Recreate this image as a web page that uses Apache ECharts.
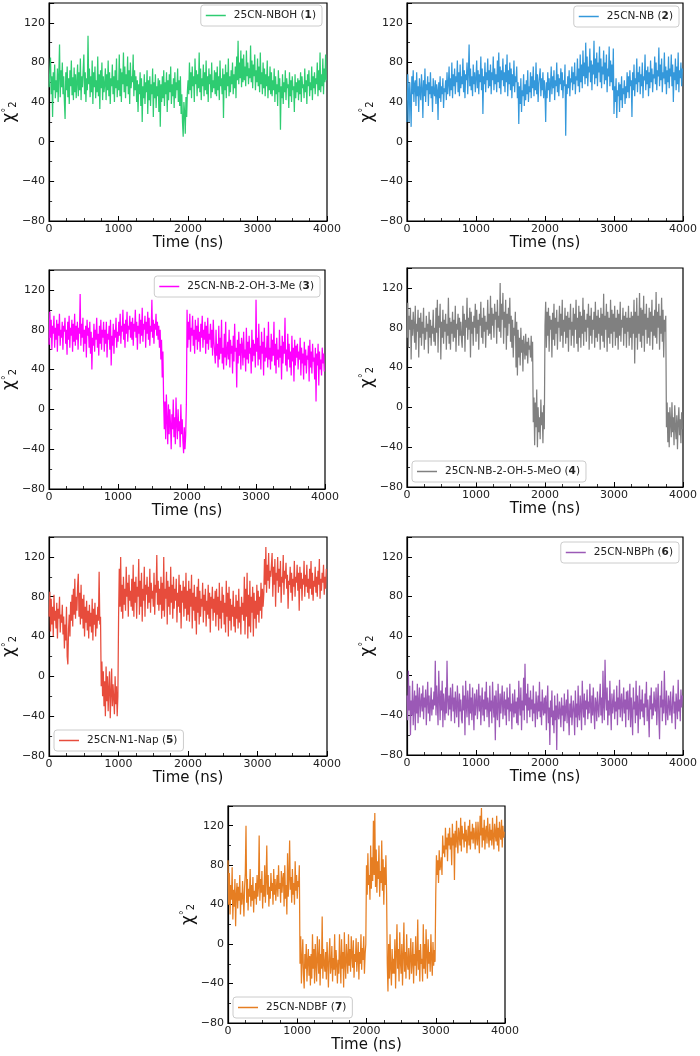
<!DOCTYPE html>
<html>
<head>
<meta charset="utf-8">
<script src="https://cdn.jsdelivr.net/npm/echarts@6/dist/echarts.min.js"></script>
<style>
html, body { margin: 0; padding: 0; background: #fff; }
#main { width: 700px; height: 1056px; }
</style>
</head>
<body>
<div id="main"></div>
<script>
// sampling interval of the trajectories (ns)
var STEP = 10;
var xTicks = [0, 1000, 2000, 3000, 4000];
var yTicks = [-80, -40, 0, 40, 80, 120];
var yMax = 140;

var names = ['25CN-NBOH', '25CN-NB', '25CN-NB-2-OH-3-Me', '25CN-NB-2-OH-5-MeO', '25CN-N1-Nap', '25CN-NBPh', '25CN-NDBF'];
var numbers = ['1', '2', '3', '4', '5', '6', '7'];
var colors = ['#2ecc71', '#3498db', '#ff00ff', '#808080', '#e74c3c', '#9b59b6', '#e67e22'];

var nboh = [
  55,72,85,48,66,25,70,52,78,44,62,50,74,40,68,98,45,72,55,80,48,66,40,23,70,52,76,45,64,38,72,56,82,47,65,42,75,50,68,44,
  60,78,46,70,52,84,42,66,55,72,88,48,70,40,64,52,107,58,74,45,66,50,82,38,70,55,76,44,62,50,86,46,68,33,72,54,80,42,66,50,
  58,74,42,68,52,82,46,70,38,64,56,78,48,66,40,72,54,84,45,62,52,88,46,74,40,70,58,90,50,76,44,68,56,86,48,72,38,80,54,66,
  60,88,46,72,52,66,40,62,30,58,48,70,36,64,20,56,44,68,38,60,50,72,28,62,42,66,36,58,48,74,25,60,44,68,34,56,46,64,30,62,
  15,58,40,66,44,72,36,60,48,70,30,62,42,68,50,76,38,58,46,64,34,70,44,60,52,74,40,62,36,66,28,48,20,5,40,30,8,45,25,50,
  62,48,80,52,70,44,76,56,66,40,84,58,72,46,68,54,90,50,74,42,64,56,78,46,70,52,82,48,66,40,74,58,68,44,80,50,62,54,72,48,
  70,46,76,52,66,42,82,56,64,48,74,24,68,52,78,44,70,56,84,46,66,50,72,58,80,48,68,54,76,44,86,62,102,58,80,64,92,55,84,60,
  88,62,76,56,92,66,80,58,74,64,97,60,82,54,78,66,88,52,72,60,84,56,76,50,90,58,70,48,80,54,74,46,68,56,82,44,66,52,76,48,
  70,46,62,52,74,40,66,48,58,36,72,50,64,12,56,44,68,38,60,50,72,42,64,54,58,34,70,46,62,40,66,52,56,30,68,44,60,50,64,42,
  62,48,70,40,66,54,58,44,74,50,62,38,68,56,72,46,60,52,76,42,66,54,70,48,64,58,80,46,72,52,90,50,68,56,84,48,74,60,88,62
];
var nb = [
  20,68,52,20,60,44,15,66,48,72,40,58,62,36,70,46,56,30,64,50,42,68,54,24,62,46,74,40,58,52,66,36,60,48,70,44,56,30,64,50,
  46,62,38,58,52,22,60,44,66,40,56,48,64,34,54,50,62,42,70,48,58,76,46,64,52,80,44,68,56,74,48,66,60,82,50,70,46,78,54,66,
  58,84,50,72,44,68,62,80,48,70,98,56,74,52,66,46,78,58,70,50,64,82,54,72,48,68,60,86,52,74,28,66,58,80,50,70,62,84,54,72,
  56,78,48,70,62,86,52,74,58,68,50,82,60,90,54,76,48,72,62,84,56,70,50,78,60,88,46,72,58,80,52,74,44,68,56,82,50,66,60,76,
  44,60,18,56,38,64,30,52,46,68,36,58,42,62,48,72,40,56,50,70,44,66,54,76,46,62,52,80,48,68,40,58,56,74,46,64,52,70,44,62,
  50,20,60,44,70,52,64,40,58,76,48,66,54,72,42,62,56,80,50,68,46,64,58,74,52,70,44,62,56,78,6,58,48,66,54,72,46,64,60,76,
  52,70,58,80,48,66,62,84,56,74,50,88,60,78,54,92,66,80,58,100,64,86,56,76,70,94,60,82,52,78,68,102,58,84,64,90,56,80,70,96,
  60,84,54,76,68,92,58,80,62,88,50,74,66,96,56,82,60,78,52,94,28,56,40,64,24,52,46,60,30,58,42,66,34,54,48,62,38,56,44,70,
  50,66,44,72,56,62,25,70,52,78,46,64,58,84,50,70,60,76,48,68,56,80,44,66,62,88,52,72,58,76,46,70,54,82,60,74,50,68,64,86,
  58,80,52,72,66,95,56,78,62,84,50,70,64,90,58,76,48,72,60,86,54,74,66,88,56,78,40,70,62,84,52,76,58,90,50,72,64,80,56,74
];
var nb2oh3me = [
  65,98,72,90,60,84,76,94,62,82,70,90,58,86,74,96,64,80,72,88,60,84,78,92,66,80,55,88,70,94,62,82,74,90,58,86,68,96,64,84,
  70,88,60,82,76,116,64,86,72,92,58,80,66,84,52,90,74,82,62,88,56,78,40,72,64,86,58,80,70,92,62,76,54,84,66,90,60,80,72,88,
  58,80,66,88,52,76,70,84,60,90,44,74,64,86,56,80,72,92,62,78,68,88,74,96,66,84,78,100,70,86,62,90,76,98,68,84,80,94,72,88,
  70,92,64,86,78,100,72,88,60,84,76,96,66,90,74,102,68,86,80,94,62,88,76,98,70,92,64,84,78,110,72,90,66,86,80,96,74,88,70,84,
  62,80,50,70,32,58,10,-20,8,-30,15,-10,-35,5,-25,0,-15,-40,-5,-20,10,-28,-8,-35,12,-15,-30,0,-22,-12,-38,5,-25,-10,-32,-44,-18,-40,-26,5,
  100,62,88,70,96,58,82,74,94,64,80,56,90,70,84,60,92,68,78,58,86,72,94,62,80,70,88,56,84,66,92,60,76,70,86,62,80,54,90,68,
  70,46,80,54,66,42,84,50,72,56,90,46,62,40,76,52,88,44,58,68,50,80,42,70,56,64,36,74,48,86,58,62,22,70,46,78,54,66,40,72,
  64,44,78,52,60,38,82,50,68,46,74,56,62,36,80,48,70,54,66,42,110,58,72,44,86,50,64,40,78,56,68,34,82,48,62,52,74,42,88,50,
  62,40,76,48,70,54,88,44,66,36,72,50,60,42,80,52,64,30,74,46,68,56,92,44,60,38,76,50,66,42,58,34,74,48,62,28,70,44,64,52,
  66,40,58,50,72,34,62,46,56,30,68,44,60,36,54,50,64,28,70,42,58,36,66,48,52,30,62,8,56,44,66,24,58,40,50,34,62,46,56,38
];
var nb2oh5meo = [
  70,105,60,92,78,100,48,88,72,96,82,65,102,58,84,76,98,50,90,70,95,62,86,74,100,58,80,68,92,76,84,54,96,70,88,62,82,74,98,66,
  80,62,100,75,108,55,92,80,104,48,86,70,98,64,88,76,94,58,84,72,110,64,90,58,86,74,96,66,88,70,102,56,84,78,94,62,90,72,86,68,
  60,102,72,94,56,88,80,110,68,90,78,100,50,96,74,86,62,92,80,104,66,98,74,88,58,94,82,106,70,90,64,100,76,92,60,86,78,108,72,94,
  74,112,68,100,82,94,70,104,88,96,64,108,80,92,76,125,70,104,88,115,64,96,80,108,58,94,72,100,84,110,66,92,60,88,50,80,72,96,40,86,
  32,78,50,70,42,80,55,68,36,72,60,48,74,52,66,44,70,58,62,50,72,46,66,-15,10,-38,5,-20,18,-40,0,-25,-10,-32,8,-18,-5,-36,2,-22,
  82,106,60,96,72,100,56,92,78,88,50,95,68,104,62,90,74,98,58,86,80,102,66,94,72,108,60,88,76,100,64,92,70,96,56,90,78,104,62,86,
  72,100,60,94,78,108,64,90,56,102,70,96,60,92,74,110,62,98,76,88,66,94,80,104,58,92,72,100,64,88,78,96,60,106,70,92,66,98,74,90,
  58,100,72,94,66,114,60,92,78,104,56,96,70,90,64,108,74,98,60,94,76,102,62,90,70,98,58,94,72,106,66,88,80,100,62,92,74,96,60,90,
  76,102,62,90,70,96,58,92,74,108,44,96,70,110,58,92,74,115,66,100,60,98,72,112,56,94,78,104,64,90,70,100,62,96,76,108,58,92,72,98,
  70,116,64,96,80,104,58,92,74,110,66,98,50,88,76,92,-20,5,-35,-5,-40,0,-15,-30,5,-25,-10,-38,2,-20,-32,-8,-42,-15,0,-28,-12,-36,-5,-22
];
var n1nap = [
  60,85,45,78,52,70,40,82,56,66,48,74,38,68,58,80,44,62,54,72,42,60,28,52,36,70,20,12,48,62,40,75,56,82,50,88,62,98,58,80,
  66,90,103,60,84,52,92,58,78,48,82,40,70,54,76,46,66,38,72,50,64,44,78,36,68,52,74,40,62,48,70,56,105,52,60,-10,15,-20,5,-30,
  -5,-40,10,-25,0,-35,-12,5,-42,-18,8,-30,-8,-22,-38,0,-28,-10,-40,-20,60,108,70,120,65,92,58,100,72,88,66,110,80,94,60,102,76,86,70,98,
  66,112,60,95,74,100,58,90,80,118,62,96,70,104,55,88,76,110,60,92,82,100,68,90,74,108,64,94,78,86,70,104,62,92,84,122,72,96,66,88,
  72,100,58,94,66,120,60,88,78,105,52,96,70,90,62,110,74,92,58,100,68,88,76,98,54,84,70,102,64,92,48,86,74,96,60,90,68,104,56,86,
  62,96,55,88,70,102,48,84,66,92,56,80,42,90,64,98,52,86,60,78,70,94,54,82,66,88,50,76,62,92,58,84,44,80,68,90,56,78,64,86,
  50,88,62,80,46,94,58,76,48,90,64,82,52,74,44,96,60,84,40,90,56,78,46,72,60,86,50,70,44,82,58,76,48,88,54,70,42,80,62,74,
  56,100,42,88,60,104,38,82,50,96,44,80,64,90,40,84,58,76,48,92,62,86,54,80,66,94,58,88,70,82,118,92,130,84,112,96,124,88,106,100,
  100,124,80,110,92,118,70,104,96,120,84,108,90,116,74,100,94,122,82,106,98,114,88,102,68,96,92,110,84,104,76,98,90,116,80,100,94,112,86,104,
  66,110,88,104,76,98,92,116,80,102,90,112,84,98,78,108,88,116,82,104,76,96,90,110,84,100,80,106,92,118,78,98,86,104,94,112,82,100,88,108
];
var nbph = [
  -20,-45,5,-35,-10,-60,-25,-40,-5,-50,-30,-15,-55,-20,-38,-8,-48,-25,-12,-42,-28,-18,-36,-10,-44,-22,-32,-14,-50,-26,-6,-38,-20,-46,-30,-12,-40,-24,-34,-16,
  -30,15,-40,-10,-28,-50,5,-22,-45,-15,-35,-5,-52,-18,-30,-45,-12,-38,15,-25,-40,-20,-34,-12,-46,-26,-8,-36,-22,-48,-16,-30,-42,-10,-28,-52,-18,-36,-24,-44,
  -48,-10,-35,-20,-60,-5,-30,-42,-15,-28,-50,-8,-38,-22,-45,-12,-32,-55,-18,-40,-26,-14,-44,-30,-8,-36,-20,-50,-28,-12,-40,-24,-46,-16,-34,-6,-42,-22,-30,-52,
  -10,-36,-25,-48,-6,-30,-42,-20,-65,-15,-35,-45,-8,-28,-52,-18,-38,-25,-10,-44,-30,-16,-40,-24,-50,-12,-34,-22,-46,-8,-36,-28,-54,-18,-32,-42,-14,-38,-26,-48,
  -22,-50,-5,-30,-40,-12,-55,-25,-35,-2,-45,12,-30,-18,-48,-8,-35,-22,-42,-15,-34,-24,-46,-10,-38,-28,-52,-16,-30,-44,-20,-36,-6,-42,-26,-50,-14,-32,-40,-22,
  -38,-20,-55,-28,-10,-48,-32,-70,-25,-42,-15,-50,-35,-58,-20,-45,-30,-75,-18,-40,-44,-26,-36,-52,-22,-40,-30,-56,-18,-46,-34,-24,-48,-14,-38,-60,-28,-42,-20,-50,
  -48,-25,-36,-60,-15,-42,-28,-52,-10,-38,-45,-20,-32,-55,-5,-30,-42,-18,-50,-25,-34,-14,-44,-26,-38,-8,-30,-48,-20,-40,-12,-36,-54,-22,-28,-46,-16,-32,-42,-24,
  -8,-40,-22,-48,5,-30,-45,16,-20,-35,-12,-50,-25,-40,-5,-32,-55,-18,-38,-28,-14,-44,-26,-36,-10,-50,-22,-34,-4,-42,-28,-18,-46,-30,-12,-38,-24,-52,-16,-34,
  -15,-45,-30,-8,-52,-22,-38,-60,-12,-34,-26,-48,-5,-40,-20,-58,-30,-10,-44,-24,-36,-14,-42,-28,-50,-18,-32,-6,-46,-24,-38,-62,-20,-34,-12,-44,-28,-40,-16,-30,
  -36,-12,-50,-28,-8,-42,-64,-20,-32,-5,-46,-24,-38,5,-30,-50,-15,-35,-45,-20,-28,-40,-16,-34,-48,-22,-10,-38,-26,-54,-18,-30,-44,-4,-36,-24,-46,-14,-32,-20
];
var ndbf = [
  85,40,72,30,60,45,78,25,55,38,66,18,50,62,36,58,44,70,30,52,40,64,48,28,58,72,120,42,66,34,56,48,76,38,60,44,68,32,54,46,
  62,40,70,48,58,110,44,66,52,74,36,60,48,80,42,64,100,50,70,38,58,46,72,54,62,40,76,50,66,44,58,70,48,80,56,62,42,74,52,66,
  72,38,80,46,60,30,92,48,66,105,55,68,42,76,50,62,40,84,54,70,46,64,58,80,-20,8,-40,-15,5,-30,-45,-10,-25,0,-38,-18,-5,-32,-12,-42,
  -10,-35,10,-25,-5,-40,0,-20,-38,8,-15,-30,5,-42,-10,-25,28,-35,-5,-20,-28,-8,-36,2,-18,-44,-12,6,-30,-22,-2,-38,-14,-26,10,-32,-6,-20,-40,-16,
  -30,10,-18,-40,5,-25,-8,-44,12,-20,-35,0,-15,-30,10,-22,-5,-28,8,-12,-24,4,-34,-10,-18,6,-28,-14,2,-36,-8,-20,10,-26,-4,-16,8,-30,-10,0,
  80,50,92,60,70,45,100,56,88,64,125,70,133,58,96,52,84,66,100,48,74,62,105,54,86,40,78,60,90,52,-20,-48,0,-35,10,-25,-42,-5,-30,-15,
  -30,5,-45,-10,20,-25,-5,-38,12,-18,-30,0,-42,-12,22,-28,-8,-35,10,-20,-26,-4,-36,-14,6,-30,-18,2,-40,-10,-22,8,-32,-16,25,-26,-6,-38,0,-20,
  -15,-38,20,-25,0,-30,15,-10,-35,5,-20,-8,-28,10,-14,-32,2,-22,-6,-18,50,90,70,85,62,95,75,80,88,70,110,92,100,88,118,96,108,84,112,100,
  118,96,108,80,122,100,112,65,115,98,125,104,92,118,110,100,128,94,120,106,112,98,124,104,116,92,108,120,100,126,96,114,106,122,102,118,110,96,124,108,
  100,124,108,92,130,110,138,98,118,105,126,96,114,120,102,128,110,98,122,105,116,100,128,108,96,122,112,104,130,100,118,94,124,110,106,126,98,120,108,114
];
var allSeries = [nboh, nb, nb2oh3me, nb2oh5meo, n1nap, nbph, ndbf];

// panel boxes and legend spots
var panels = [
  {left: 49, top: 3, width: 278, height: 218, legend: {right: 378, top: 5}},
  {left: 407, top: 3, width: 277, height: 218, legend: {right: 21, top: 6}},
  {left: 48, top: 270, width: 277, height: 219, legend: {right: 380, top: 276}},
  {left: 407, top: 268, width: 277, height: 219, legend: {left: 412, top: 461}},
  {left: 49, top: 537, width: 278, height: 219, legend: {left: 54, top: 730}},
  {left: 407, top: 537, width: 278, height: 218, legend: {right: 21, top: 542}},
  {left: 228, top: 806, width: 277, height: 217, legend: {left: 233, top: 997}}
];

var FONT = 'DejaVu Sans';
var myChart = echarts.init(document.getElementById('main'), null, {renderer: 'canvas'});

var grids = [], xAxes = [], yAxes = [], series = [], legends = [];

function minus(v) {
  return String(v).replace('-', '\u2212');
}

panels.forEach(function (p, i) {
  grids.push({
    left: p.left, top: p.top, width: p.width, height: p.height,
    show: true, borderColor: '#000', borderWidth: 1.2, backgroundColor: 'transparent'
  });
  xAxes.push({
    type: 'value', gridIndex: i,
    min: xTicks[0], max: xTicks[xTicks.length - 1], interval: xTicks[1] - xTicks[0],
    name: 'Time (ns)', nameLocation: 'middle', nameGap: 15,
    nameTextStyle: {fontFamily: FONT, fontSize: 15, color: '#111'},
    axisLine: {show: true, onZero: false, lineStyle: {color: '#000', width: 1.2}},
    axisTick: {show: true, inside: true, length: 5, lineStyle: {color: '#000', width: 1}},
    minorTick: {show: true, splitNumber: 4, length: 3, lineStyle: {color: '#000', width: 0.8}},
    splitLine: {show: false},
    axisLabel: {
      fontFamily: FONT, fontSize: 11, color: '#222', margin: 3,
      formatter: function (v) { return String(v); }
    }
  });
  yAxes.push({
    type: 'value', gridIndex: i,
    min: yTicks[0], max: yMax, interval: yTicks[1] - yTicks[0],
    name: '{c|\u03c7}{o|\u00b0}{s|2}', nameLocation: 'middle', nameGap: 28,
    nameTextStyle: {
      fontFamily: FONT, color: '#111',
      rich: {
        c: {fontFamily: FONT, fontSize: 17, color: '#111'},
        o: {fontFamily: FONT, fontSize: 10, color: '#111', verticalAlign: 'top'},
        s: {fontFamily: FONT, fontSize: 10, color: '#111', verticalAlign: 'bottom'}
      }
    },
    axisLine: {show: true, onZero: false, lineStyle: {color: '#000', width: 1.2}},
    axisTick: {show: true, inside: true, length: 5, lineStyle: {color: '#000', width: 1}},
    minorTick: {show: true, splitNumber: 2, length: 3, lineStyle: {color: '#000', width: 0.8}},
    splitLine: {show: false},
    axisLabel: {
      fontFamily: FONT, fontSize: 11, color: '#222', margin: 4, showMaxLabel: false,
      formatter: function (v) { return yTicks.indexOf(v) >= 0 ? minus(v) : ''; }
    }
  });
  series.push({
    name: names[i], type: 'line', xAxisIndex: i, yAxisIndex: i,
    symbol: 'none', showSymbol: false, animation: false,
    lineStyle: {color: colors[i], width: 1.25},
    itemStyle: {color: colors[i]},
    data: allSeries[i].map(function (v, k) { return [k * STEP, v]; })
  });
  var lg = {
    data: [names[i]], orient: 'horizontal',
    icon: 'rect', itemWidth: 20, itemHeight: 1.5,
    itemStyle: {color: colors[i]},
    padding: [5, 6, 5, 5],
    borderColor: '#cccccc', borderWidth: 1, borderRadius: 3,
    backgroundColor: 'rgba(255,255,255,0.8)',
    selectedMode: false,
    textStyle: {
      fontFamily: FONT, fontSize: 10.5, color: '#222', padding: [0, 0, 0, 3],
      rich: {b: {fontFamily: FONT, fontSize: 10.5, fontWeight: 'bold', color: '#222'}}
    },
    formatter: (function (num) {
      return function (name) { return name + ' ({b|' + num + '})'; };
    })(numbers[i])
  };
  Object.keys(p.legend).forEach(function (k) { lg[k] = p.legend[k]; });
  legends.push(lg);
});

option = {
  animation: false,
  backgroundColor: '#fff',
  grid: grids,
  xAxis: xAxes,
  yAxis: yAxes,
  legend: legends,
  series: series
};

if (option && typeof option === 'object') {
  myChart.setOption(option, true);
}
</script>
</body>
</html>
